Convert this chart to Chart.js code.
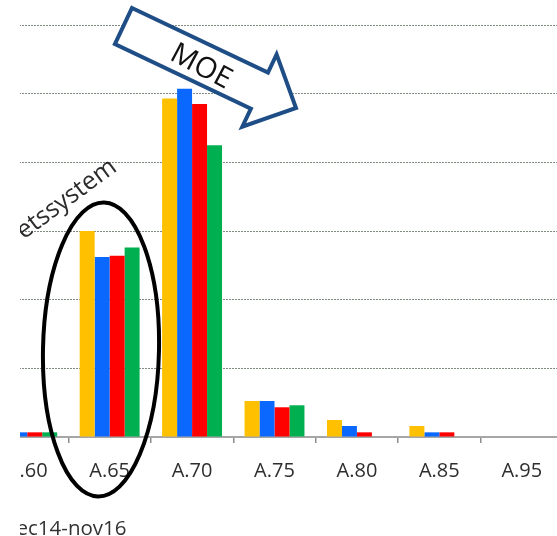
<!DOCTYPE html>
<html>
<head>
<meta charset="utf-8">
<script src="https://cdn.jsdelivr.net/npm/chart.js@4.4.1/dist/chart.umd.min.js"></script>
<style>
  html, body { margin:0; padding:0; background:#fff; width:557px; height:536px; overflow:hidden; }
  #clip { position:absolute; left:20px; top:0; width:537px; height:536px; overflow:hidden; }
  #wrap { position:absolute; left:-34.5px; top:0; width:577px; height:536px; }
  #ov { position:absolute; left:0; top:0; }
</style>
</head>
<body>
<div id="clip">
  <div id="wrap"><canvas id="c"></canvas></div>
  <svg id="ov" width="537" height="536" viewBox="0 0 537 536">
    <g transform="translate(-20,0)">
      <!-- rotated axis title fragment -->
      <text x="118" y="170" transform="rotate(-36.5 118 170)" text-anchor="end"
            font-family="Open Sans" font-size="25" fill="#2b2b2b">etssystem</text>
      <!-- bottom title fragment -->
      <text x="4" y="535" font-family="Open Sans" font-size="20.5" fill="#333">dec14-nov16</text>
      <!-- ellipse -->
      <ellipse cx="101" cy="349.5" rx="58" ry="147" transform="rotate(1.2 101 349.5)"
               fill="none" stroke="#000" stroke-width="4"/>
      <!-- MOE arrow -->
      <path d="M132,8 L268,72.5 L276.6,54.4 L296,108 L242.3,126.7 L250.9,108.6 L114.9,44.1 Z"
            fill="#fff" stroke="#1F4E87" stroke-width="4" stroke-linejoin="miter"/>
      <text x="202.5" y="64" transform="rotate(28 202.5 64)" text-anchor="middle"
            dominant-baseline="central" font-family="Open Sans" font-size="29" fill="#111">MOE</text>
    </g>
  </svg>
</div>
<script>
const categories = ['A.60','A.65','A.70','A.75','A.80','A.85','A.95'];
const seriesYellow = [0.68, 30.0, 49.3, 5.24, 2.48, 1.6, 0];
const seriesBlue   = [0.68, 26.2, 50.7, 5.24, 1.6, 0.68, 0];
const seriesRed    = [0.68, 26.4, 48.5, 4.33, 0.68, 0.68, 0];
const seriesGreen  = [0.68, 27.6, 42.5, 4.62, 0, 0, 0];
const yTicksMin = 0, yTicksMax = 60, yStep = 10;

const colors = ['#FFC000', '#0A68FF', '#FF0000', '#00B050'];
const seriesList = [seriesYellow, seriesBlue, seriesRed, seriesGreen];

new Chart(document.getElementById('c'), {
  type: 'bar',
  data: {
    labels: categories,
    datasets: seriesList.map((d, i) => ({
      data: d,
      backgroundColor: colors[i],
      borderWidth: 0,
      categoryPercentage: 0.727,
      barPercentage: 1.0
    }))
  },
  options: {
    responsive: true,
    maintainAspectRatio: false,
    animation: false,
    layout: { padding: { top: 25, left: 0, right: 0, bottom: 0 } },
    plugins: { legend: { display: false }, title: { display: false }, tooltip: { enabled: false } },
    scales: {
      x: {
        offset: true,
        afterFit: s => { s.height = 99; },
        grid: { offset: true, drawOnChartArea: false, drawTicks: true, tickLength: 6, color: '#8c8c8c', lineWidth: 1.5 },
        border: { display: true, color: '#a6a6a6', width: 2 },
        ticks: { font: { family: 'Open Sans', size: 20 }, color: '#2e2e2e', padding: 16, maxRotation: 0, autoSkip: false }
      },
      y: {
        min: yTicksMin, max: yTicksMax,
        afterFit: s => { s.width = 0; },
        ticks: { display: false, stepSize: yStep },
        grid: { drawTicks: false, color: '#7f8c7f', lineWidth: 1 },
        border: { display: false, dash: [2, 1] }
      }
    }
  }
});
</script>
</body>
</html>
